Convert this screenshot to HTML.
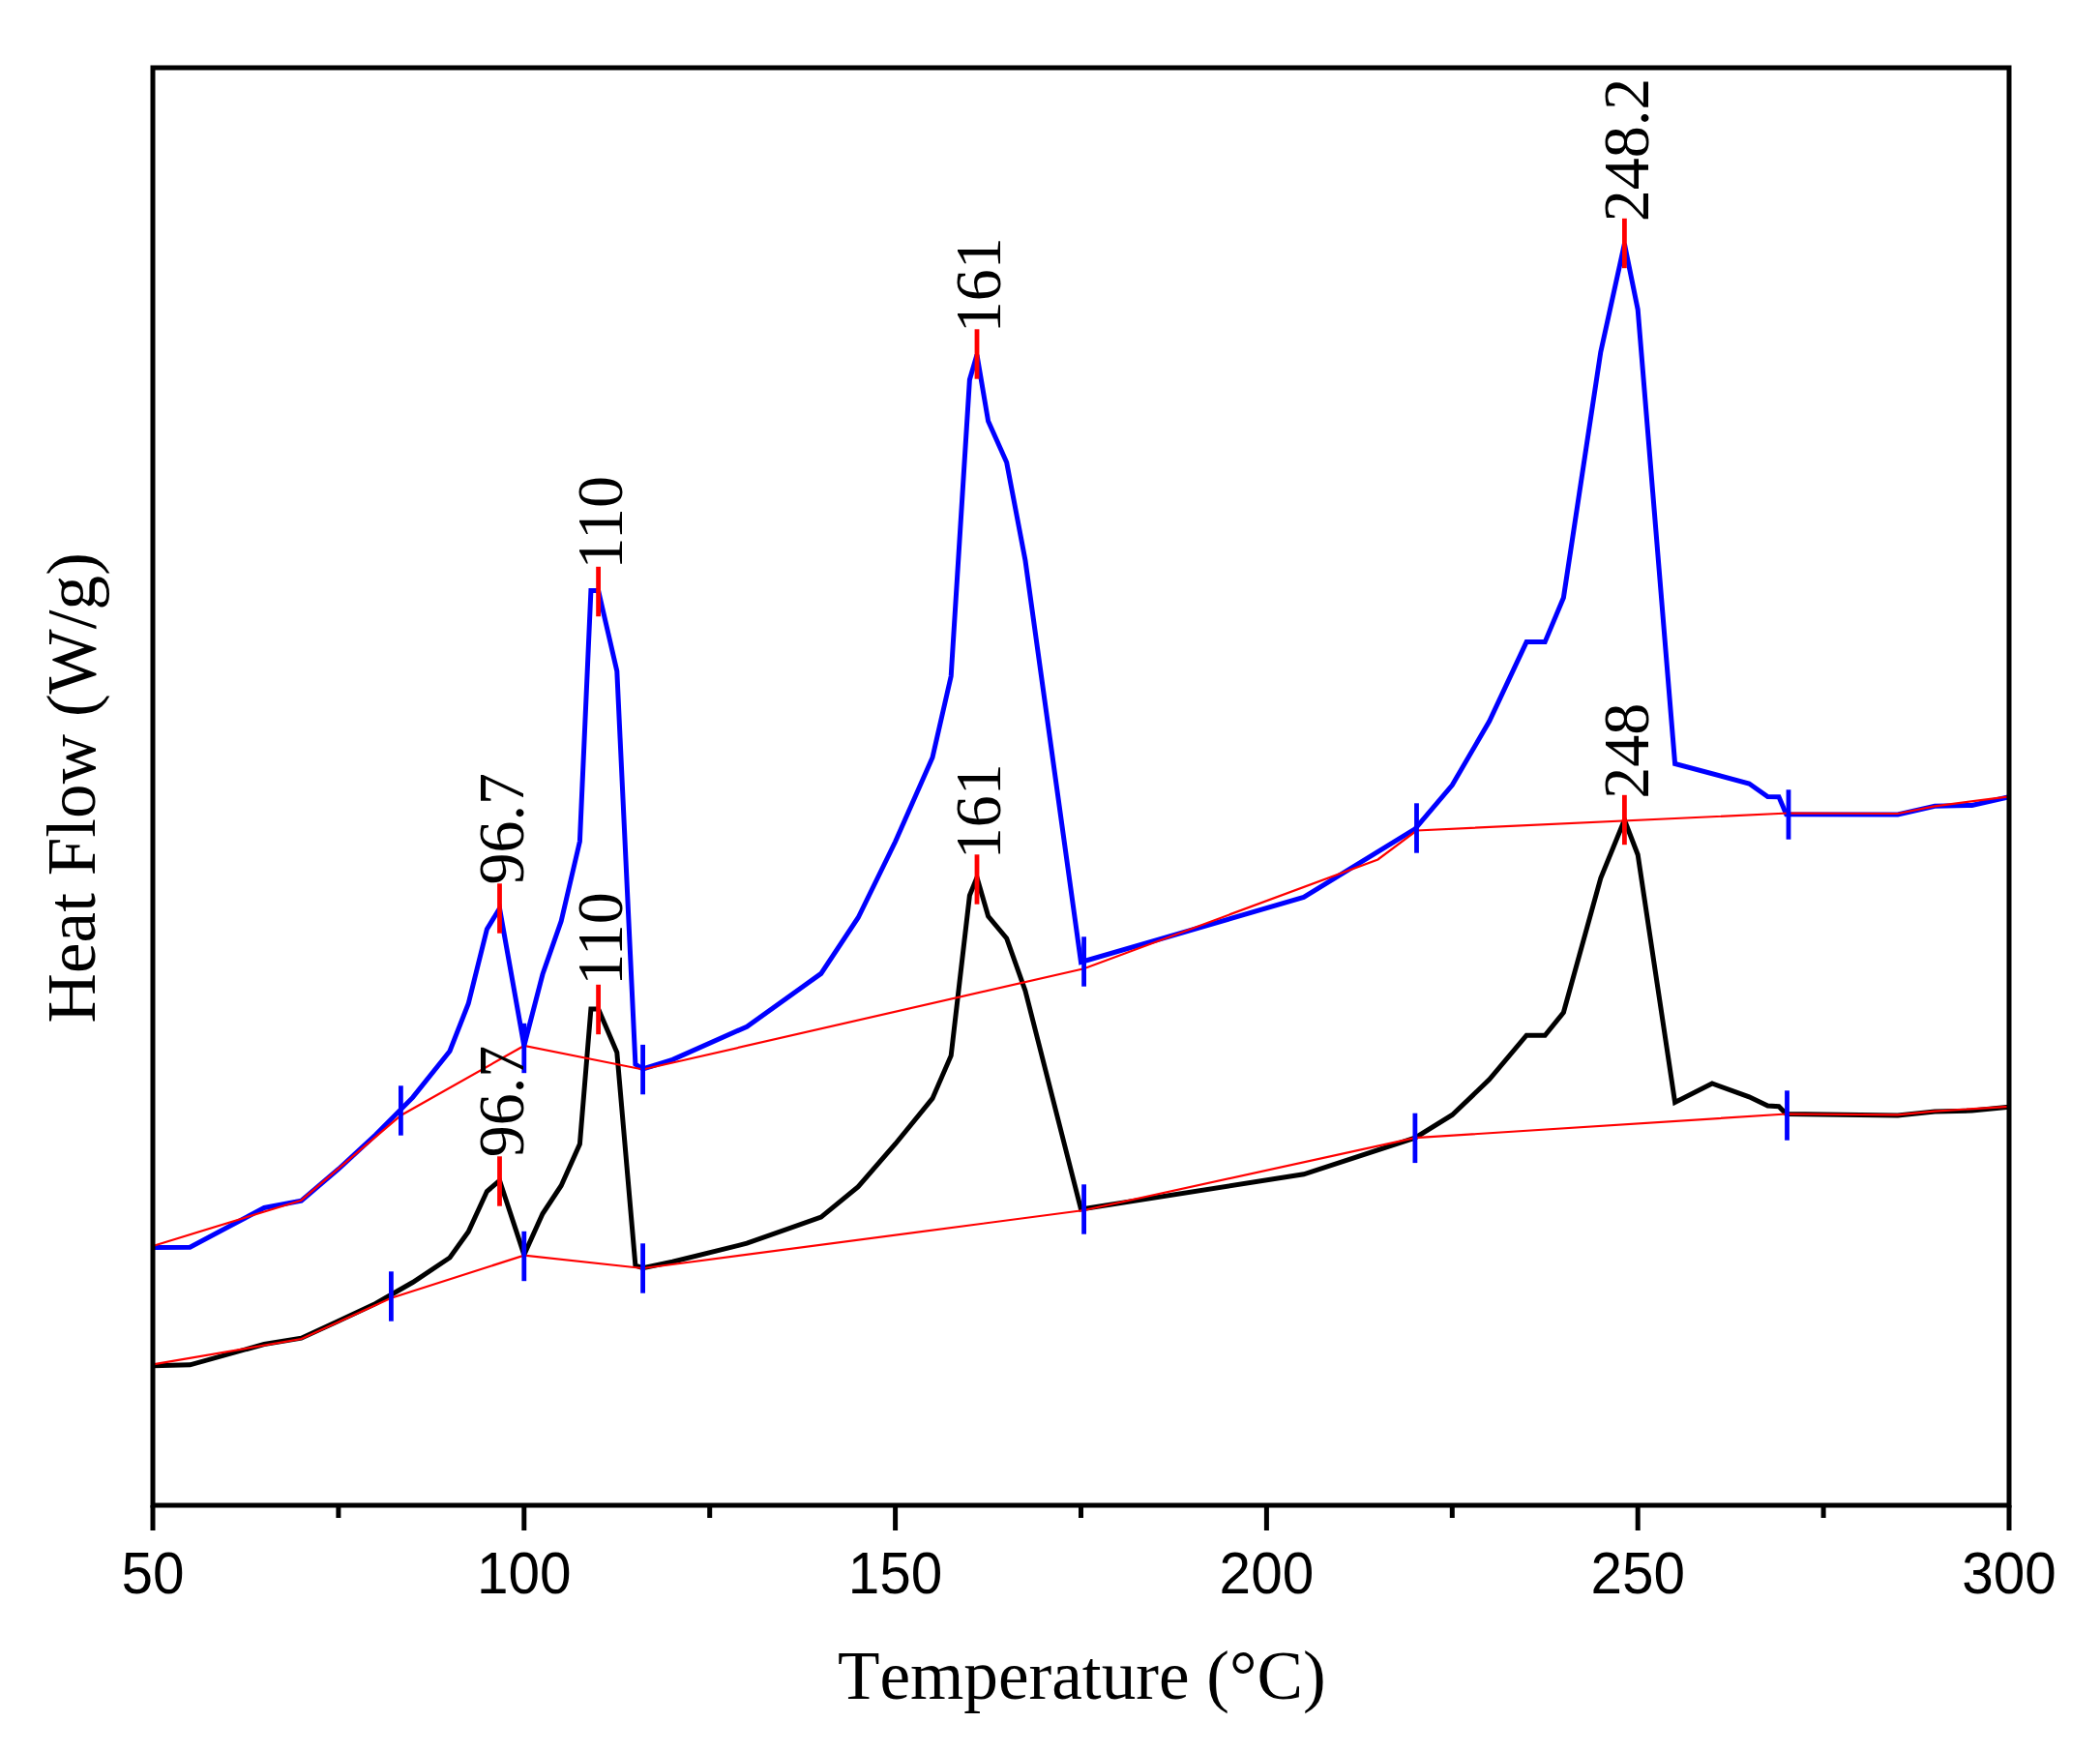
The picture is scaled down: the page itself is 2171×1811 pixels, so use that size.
<!DOCTYPE html>
<html><head><meta charset="utf-8"><title>DSC</title>
<style>
html,body{margin:0;padding:0;background:#fff;}
svg{display:block;}
.tick{font-family:"Liberation Sans",Arial,sans-serif;font-size:58.5px;fill:#000;}
.ttl{font-family:"Liberation Serif","Times New Roman",serif;font-size:71.2px;fill:#000;font-kerning:none;}
.lbl{font-family:"Liberation Serif","Times New Roman",serif;font-size:66px;fill:#000;}
</style></head><body>
<svg width="2171" height="1811" viewBox="0 0 2171 1811">
<rect width="2171" height="1811" fill="#fff"/>
<polyline fill="none" stroke="#000" stroke-width="5" stroke-linejoin="miter" points="158.0,1411.8 196.4,1410.8 273.1,1389.5 311.5,1383.2 349.9,1365.5 388.3,1347.5 426.7,1325.5 465.0,1300.0 484.2,1273.3 503.4,1231.5 516.5,1220.3 541.8,1297.0 561.0,1254.5 580.2,1225.5 599.4,1182.6 610.9,1042.9 618.6,1042.9 637.8,1087.8 656.9,1308.2 664.6,1310.7 695.3,1304.3 772.1,1285.2 848.8,1258.1 887.2,1226.7 925.6,1182.5 964.0,1135.4 983.2,1091.2 1002.4,925.6 1010.0,907.0 1021.6,947.0 1040.7,969.9 1059.9,1024.0 1117.5,1250.0 1347.8,1213.8 1462.9,1176.2 1501.3,1152.5 1539.7,1115.9 1578.1,1070.2 1597.2,1070.2 1616.4,1046.5 1654.8,907.9 1679.4,847.5 1693.2,883.5 1731.6,1139.5 1770.0,1120.0 1808.3,1133.8 1827.5,1143.0 1839.0,1143.7 1846.7,1151.6 1961.9,1152.9 2000.2,1149.0 2038.6,1148.1 2077.0,1144.3"/>
<polyline fill="none" stroke="#00f" stroke-width="5" stroke-linejoin="miter" points="158.0,1289.4 196.4,1289.2 273.1,1248.5 311.5,1241.2 349.9,1208.5 388.3,1173.0 426.7,1134.4 465.0,1086.5 484.2,1037.5 503.4,960.5 516.5,939.0 541.8,1081.0 561.0,1007.0 580.2,952.0 599.4,869.7 610.9,610.5 618.6,610.5 637.8,693.6 656.9,1100.0 664.6,1105.0 695.3,1095.4 772.1,1061.2 848.8,1006.4 887.2,948.5 925.6,870.0 964.0,783.0 983.2,699.0 1002.4,392.5 1010.0,366.8 1021.6,435.3 1040.7,478.1 1059.9,579.0 1117.5,994.5 1347.8,927.5 1462.9,856.8 1501.3,811.5 1539.7,745.6 1578.1,663.6 1597.2,663.6 1616.4,617.7 1654.8,363.9 1679.4,252.0 1693.2,319.9 1731.6,789.5 1808.3,810.0 1827.5,823.5 1839.0,823.8 1846.7,841.8 1961.9,841.9 2000.2,833.3 2038.6,832.4 2077.0,823.8"/>
<polyline fill="none" stroke="#f00" stroke-width="2.2" points="158.0,1410.3 311.5,1384.0 404.4,1341.7 541.8,1297.7 664.6,1311.0 1120.6,1251.0 1462.9,1176.2 1846.7,1151.5 1961.9,1152.3 2000.2,1148.6 2077.0,1143.8"/>
<polyline fill="none" stroke="#f00" stroke-width="2.2" points="158.0,1288.0 311.5,1240.7 414.4,1153.0 541.8,1081.0 664.6,1105.5 1120.6,1001.2 1424.5,888.5 1464.5,858.5 1849.0,840.5 1961.9,841.0 2000.2,833.3 2077.0,823.3"/>
<line x1="414.4" x2="414.4" y1="1122.3" y2="1173.7" stroke="#00f" stroke-width="4.8"/>
<line x1="541.8" x2="541.8" y1="1057.8" y2="1109.2" stroke="#00f" stroke-width="4.8"/>
<line x1="664.6" x2="664.6" y1="1079.9" y2="1131.3" stroke="#00f" stroke-width="4.8"/>
<line x1="1120.6" x2="1120.6" y1="968.3" y2="1019.7" stroke="#00f" stroke-width="4.8"/>
<line x1="1464.5" x2="1464.5" y1="830.3" y2="881.7" stroke="#00f" stroke-width="4.8"/>
<line x1="1849.0" x2="1849.0" y1="816.3" y2="867.7" stroke="#00f" stroke-width="4.8"/>
<line x1="404.4" x2="404.4" y1="1314.3" y2="1365.7" stroke="#00f" stroke-width="4.8"/>
<line x1="541.8" x2="541.8" y1="1272.8" y2="1324.2" stroke="#00f" stroke-width="4.8"/>
<line x1="664.6" x2="664.6" y1="1285.3" y2="1336.7" stroke="#00f" stroke-width="4.8"/>
<line x1="1120.6" x2="1120.6" y1="1224.3" y2="1275.7" stroke="#00f" stroke-width="4.8"/>
<line x1="1462.9" x2="1462.9" y1="1150.7" y2="1202.1" stroke="#00f" stroke-width="4.8"/>
<line x1="1847.5" x2="1847.5" y1="1127.3" y2="1178.7" stroke="#00f" stroke-width="4.8"/>
<line x1="516.5" x2="516.5" y1="913.3" y2="964.7" stroke="#f00" stroke-width="4.8"/>
<text class="lbl" transform="translate(540.6,914.6) rotate(-90) scale(1,1.04)">96.7</text>
<line x1="618.6" x2="618.6" y1="585.8" y2="637.2" stroke="#f00" stroke-width="4.8"/>
<text class="lbl" transform="translate(642.7,588.5) rotate(-90) scale(1,1.04)">110</text>
<line x1="1010.0" x2="1010.0" y1="340.3" y2="391.7" stroke="#f00" stroke-width="4.8"/>
<text class="lbl" transform="translate(1034.1,344.3) rotate(-90) scale(1,1.04)">161</text>
<line x1="1679.4" x2="1679.4" y1="225.8" y2="277.2" stroke="#f00" stroke-width="4.8"/>
<text class="lbl" transform="translate(1703.5,229.3) rotate(-90) scale(1,1.04)">248.2</text>
<line x1="516.5" x2="516.5" y1="1195.3" y2="1246.7" stroke="#f00" stroke-width="4.8"/>
<text class="lbl" transform="translate(540.6,1196.3) rotate(-90) scale(1,1.04)">96.7</text>
<line x1="618.6" x2="618.6" y1="1017.8" y2="1069.2" stroke="#f00" stroke-width="4.8"/>
<text class="lbl" transform="translate(642.7,1018.7) rotate(-90) scale(1,1.04)">110</text>
<line x1="1010.0" x2="1010.0" y1="883.3" y2="934.7" stroke="#f00" stroke-width="4.8"/>
<text class="lbl" transform="translate(1034.1,888.3) rotate(-90) scale(1,1.04)">161</text>
<line x1="1679.4" x2="1679.4" y1="821.8" y2="873.2" stroke="#f00" stroke-width="4.8"/>
<text class="lbl" transform="translate(1703.5,825.8) rotate(-90) scale(1,1.04)">248</text>
<rect x="158.0" y="70.0" width="1919.0" height="1486.0" fill="none" stroke="#000" stroke-width="5"/>
<line x1="158.0" x2="158.0" y1="1556.0" y2="1582.0" stroke="#000" stroke-width="5"/>
<line x1="349.9" x2="349.9" y1="1556.0" y2="1569.0" stroke="#000" stroke-width="5"/>
<line x1="541.8" x2="541.8" y1="1556.0" y2="1582.0" stroke="#000" stroke-width="5"/>
<line x1="733.7" x2="733.7" y1="1556.0" y2="1569.0" stroke="#000" stroke-width="5"/>
<line x1="925.6" x2="925.6" y1="1556.0" y2="1582.0" stroke="#000" stroke-width="5"/>
<line x1="1117.5" x2="1117.5" y1="1556.0" y2="1569.0" stroke="#000" stroke-width="5"/>
<line x1="1309.4" x2="1309.4" y1="1556.0" y2="1582.0" stroke="#000" stroke-width="5"/>
<line x1="1501.3" x2="1501.3" y1="1556.0" y2="1569.0" stroke="#000" stroke-width="5"/>
<line x1="1693.2" x2="1693.2" y1="1556.0" y2="1582.0" stroke="#000" stroke-width="5"/>
<line x1="1885.1" x2="1885.1" y1="1556.0" y2="1569.0" stroke="#000" stroke-width="5"/>
<line x1="2077.0" x2="2077.0" y1="1556.0" y2="1582.0" stroke="#000" stroke-width="5"/>
<text class="tick" transform="translate(158.0,1646.5) scale(1,1.045)" text-anchor="middle">50</text>
<text class="tick" transform="translate(541.8,1646.5) scale(1,1.045)" text-anchor="middle">100</text>
<text class="tick" transform="translate(925.6,1646.5) scale(1,1.045)" text-anchor="middle">150</text>
<text class="tick" transform="translate(1309.4,1646.5) scale(1,1.045)" text-anchor="middle">200</text>
<text class="tick" transform="translate(1693.2,1646.5) scale(1,1.045)" text-anchor="middle">250</text>
<text class="tick" transform="translate(2077.0,1646.5) scale(1,1.045)" text-anchor="middle">300</text>
<text class="ttl" x="1118.3" y="1755.5" text-anchor="middle">Temperature (°C)</text>
<text class="ttl" transform="translate(98.2,814.3) rotate(-90)" text-anchor="middle">Heat Flow (W/g)</text>
</svg></body></html>
